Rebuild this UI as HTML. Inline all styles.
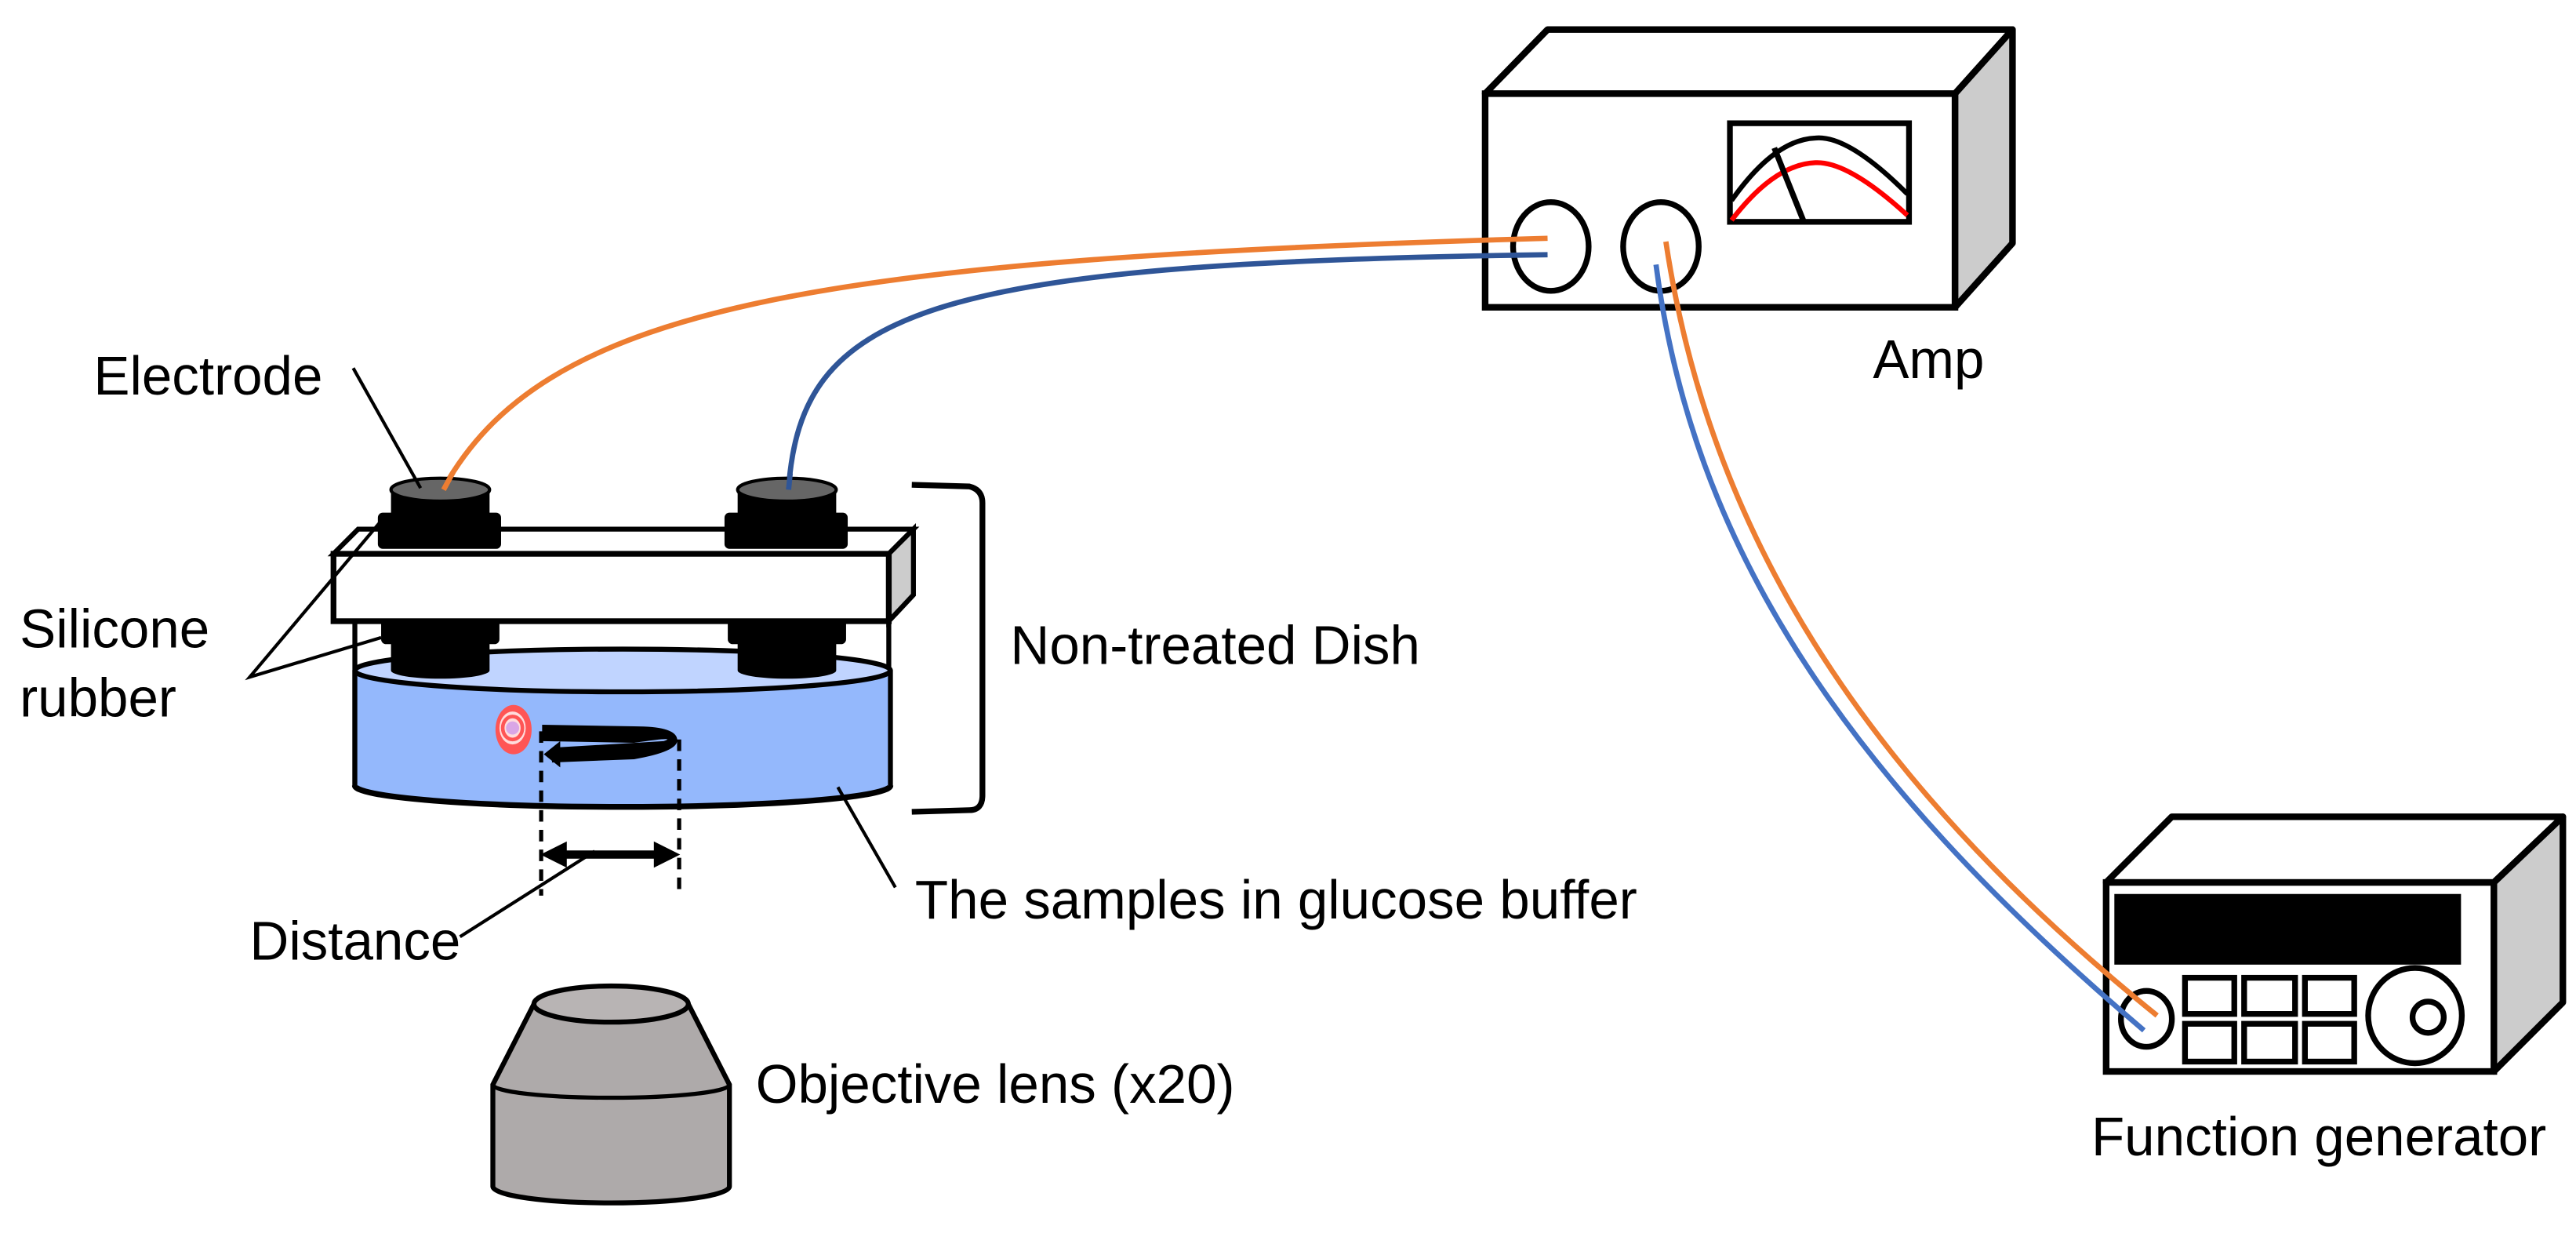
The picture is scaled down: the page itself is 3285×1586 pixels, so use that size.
<!DOCTYPE html>
<html><head><meta charset="utf-8"><style>html,body{margin:0;padding:0;background:#fff}svg{display:block}text{font-family:"Liberation Sans",Arial,sans-serif;font-size:33px;fill:#000}</style></head><body>
<svg width="3285" height="1586" viewBox="0 0 1568 757" preserveAspectRatio="none" xmlns="http://www.w3.org/2000/svg">
<rect width="1568" height="757" fill="#fff"/>
<!-- Amp -->
<polygon points="904,57 942,18 1225,18 1190,57" fill="#fff" stroke="#000" stroke-width="4" stroke-linejoin="round"/>
<polygon points="1190,57 1225,18 1225,148 1190,187" fill="#ccc" stroke="#000" stroke-width="4" stroke-linejoin="round"/>
<rect x="904" y="57" width="286" height="130" fill="#fff" stroke="#000" stroke-width="4"/>
<ellipse cx="944" cy="150" rx="23" ry="27" fill="none" stroke="#000" stroke-width="3.5"/>
<ellipse cx="1011" cy="150" rx="23" ry="27" fill="none" stroke="#000" stroke-width="3.5"/>
<rect x="1053" y="75" width="109" height="60" fill="#fff" stroke="#000" stroke-width="3.5"/>
<path d="M1054,122 Q1080,85 1105,84 Q1125,82 1161,118" fill="none" stroke="#000" stroke-width="3"/>
<path d="M1054,134 Q1080,100 1105,99 Q1125,98 1161,131" fill="none" stroke="#f00" stroke-width="3"/>
<line x1="1080" y1="90" x2="1098" y2="135" stroke="#000" stroke-width="3.5"/>
<text x="1140" y="230">Amp</text>
<!-- Function generator -->
<polygon points="1282,537 1322,497 1560,497 1518,537" fill="#fff" stroke="#000" stroke-width="4" stroke-linejoin="round"/>
<polygon points="1518,537 1560,497 1560,610 1518,652" fill="#ccc" stroke="#000" stroke-width="4" stroke-linejoin="round"/>
<rect x="1282" y="537" width="236" height="115" fill="#fff" stroke="#000" stroke-width="4"/>
<rect x="1287" y="544" width="211" height="43" fill="#000"/>
<g fill="none" stroke="#000" stroke-width="3.5">
<rect x="1330" y="595" width="30" height="22"/><rect x="1366" y="595" width="31" height="22"/><rect x="1403" y="595" width="30" height="22"/>
<rect x="1330" y="623" width="30" height="23"/><rect x="1366" y="623" width="31" height="23"/><rect x="1403" y="623" width="30" height="23"/>
<ellipse cx="1306.5" cy="620" rx="15.5" ry="17"/>
<ellipse cx="1470" cy="618" rx="28.5" ry="29"/>
<circle cx="1478" cy="619" r="9.5"/>
</g>
<text x="1273" y="703">Function generator</text>
<!-- wires -->
<g fill="none" stroke-width="3.2">
<path d="M270,297 C330,190 480,158 942,145" stroke="#ed7d31"/>
<path d="M480,297 C488,190 560,160 942,155" stroke="#2f5597"/>
<path d="M1008,161 C1030,330 1120,470 1305,627" stroke="#4472c4"/>
<path d="M1014,147 C1040,320 1130,470 1313,618" stroke="#ed7d31"/>
</g>
<line x1="216" y1="378" x2="216" y2="478" stroke="#000" stroke-width="3"/>
<line x1="541" y1="378" x2="541" y2="478" stroke="#000" stroke-width="3"/>
<path d="M216,410 L216,478 A163,13 0 0 0 542,478 L542,410 Z" fill="#94b8fc"/>
<ellipse cx="379" cy="408" rx="163" ry="13" fill="#c0d4ff" stroke="#000" stroke-width="3"/>
<path d="M216,478 A163,13 0 0 0 542,478" fill="none" stroke="#000" stroke-width="3.5"/>
<line x1="216" y1="408" x2="216" y2="478" stroke="#000" stroke-width="3"/>
<line x1="542" y1="408" x2="542" y2="478" stroke="#000" stroke-width="3"/>
<g fill="#000">
<rect x="232" y="372" width="72" height="20" rx="3"/>
<path d="M238,390 L298,390 L298,408 A30,5 0 0 1 238,408 Z"/>
<rect x="443" y="372" width="72" height="20" rx="3"/>
<path d="M449,390 L509,390 L509,408 A30,5 0 0 1 449,408 Z"/>
<path d="M238,298 L298,298 L298,320 L238,320 Z"/>
<rect x="230" y="312" width="75" height="22" rx="3"/>
<path d="M449,298 L509,298 L509,320 L449,320 Z"/>
<rect x="441" y="312" width="75" height="22" rx="3"/>
</g>
<ellipse cx="268" cy="298" rx="30" ry="7" fill="#666" stroke="#000" stroke-width="2"/>
<ellipse cx="479" cy="298" rx="30" ry="7" fill="#666" stroke="#000" stroke-width="2"/>
<path d="M270,298 L276,287" stroke="#ed7d31" stroke-width="3.2"/>
<path d="M480,298 L481,288" stroke="#2f5597" stroke-width="3.2"/>
<polygon points="203,337 218,322 556,322 541,337" fill="none" stroke="#000" stroke-width="3"/>
<polygon points="541,337 556,322 556,362 541,378" fill="#ccc" stroke="#000" stroke-width="3"/>
<rect x="203" y="337" width="338" height="41" fill="#fff" stroke="#000" stroke-width="3.5"/>
<ellipse cx="312.6" cy="444" rx="11" ry="15" fill="#ff5555"/>
<ellipse cx="312" cy="443" rx="8" ry="10" fill="#ffdcdc"/>
<ellipse cx="312" cy="443" rx="6" ry="7" fill="none" stroke="#ff5555" stroke-width="2.2"/>
<circle cx="312" cy="443" r="4" fill="#d9a6e6"/>
<path d="M330,441 L330,451 L386,452 Q413,448 404,451 L336,455 L336,464 L386,462 Q415,457 412,449 Q410,442 386,442 Z" fill="#000"/>
<polygon points="331,459 341,451 341,467" fill="#000"/>
<g stroke="#000" stroke-width="2.5" stroke-dasharray="7,5">
<line x1="329.4" y1="445" x2="329.4" y2="545"/>
<line x1="413.4" y1="450" x2="413.4" y2="545"/>
</g>
<line x1="340" y1="520" x2="402" y2="520" stroke="#000" stroke-width="5"/>
<polygon points="329,520 345,512 345,528" fill="#000"/>
<polygon points="414,520 398,512 398,528" fill="#000"/>
<path d="M555,295 L590,296 Q598,298 598,306 L598,484 Q598,493 590,493 L555,494" fill="none" stroke="#000" stroke-width="3.5"/>
<g stroke="#000" stroke-width="2" fill="none">
<line x1="215" y1="224" x2="256" y2="297"/>
<polyline points="232,317 152,412 232,388"/>
<line x1="510" y1="479" x2="545" y2="540"/>
<line x1="280" y1="570" x2="362" y2="518"/>
</g>
<path d="M300,660 L325,611 L419,611 L444,660 L444,722 A72,10 0 0 1 300,722 Z" fill="#aeaaaa" stroke="#000" stroke-width="3"/>
<path d="M300,660 A72,8 0 0 0 444,660" fill="none" stroke="#000" stroke-width="2.5"/>
<ellipse cx="372" cy="611" rx="47" ry="11" fill="#b8b4b4" stroke="#000" stroke-width="3"/>
<text x="57" y="240">Electrode</text>
<text x="12" y="394">Silicone</text>
<text x="12" y="436">rubber</text>
<text x="615" y="404">Non-treated Dish</text>
<text x="557" y="559">The samples in glucose buffer</text>
<text x="152" y="584">Distance</text>
<text x="460" y="671">Objective lens (x20)</text>
</svg>
</body></html>
